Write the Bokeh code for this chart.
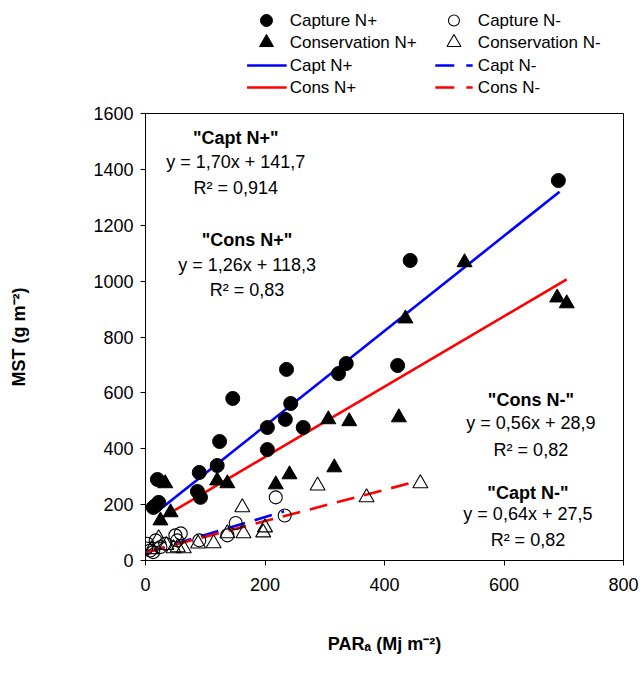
from bokeh.plotting import figure
from bokeh.models import Range1d, FixedTicker
from bokeh.layouts import column
from bokeh.core.properties import value
from bokeh.embed import file_html
from bokeh.resources import INLINE

# ---- data ----
capt_np_x = [13, 17, 22, 20, 87, 92, 90, 120, 124, 146, 204, 204, 234, 236, 243, 264, 323, 336, 422, 443, 691]
capt_np_y = [190, 197, 208, 290, 247, 226, 315, 340, 426, 580, 397, 476, 505, 684, 562, 476, 669, 705, 698, 1074, 1360]

cons_np_x = [25, 33, 42, 120, 137, 218, 241, 306, 316, 341, 424, 435, 534, 689, 705]
cons_np_y = [143, 276, 172, 286, 276, 272, 308, 505, 333, 498, 512, 866, 1067, 941, 920]

capt_nm_x = [3, 8, 17, 25, 33, 13, 1, 50, 59, 53, 90, 151, 137, 218, 233]
capt_nm_y = [60, 36, 72, 48, 60, 30, 43, 90, 97, 72, 72, 134, 90, 226, 161]

cons_nm_x = [10, 22, 35, 47, 54, 64, 88, 114, 137, 162, 164, 197, 200, 288, 370, 460]
cons_nm_y = [40, 79, 55, 43, 47, 43, 60, 61, 97, 190, 97, 100, 118, 268, 226, 276]

# regression fits: name, slope, intercept, x extent
fit_names = ["Capt N+", "Cons N+", "Capt N-", "Cons N-"]
fit_slopes = [1.70, 1.26, 0.64, 0.56]
fit_inter = [141.7, 118.3, 27.5, 28.9]
fit_x0 = [15, 22, 3, 3]
fit_x1 = [693, 705, 232, 455]

# annotations
ann_titles = ['"Capt N+"', '"Cons N+"', '"Cons N-"', '"Capt N-"']
ann_eqs = ["y = 1,70x + 141,7", "y = 1,26x + 118,3", "y = 0,56x + 28,9", "y = 0,64x + 27,5"]
ann_r2 = ["R\u00b2 = 0,914", "R\u00b2 = 0,83", "R\u00b2 = 0,82", "R\u00b2 = 0,82"]
ann_x = [151, 170, 645, 640]
ann_y_title = [1514, 1146, 573, 243]
ann_y_eq = [1428, 1056, 491, 168]
ann_y_r2 = [1335, 967, 394, 75]

x_ticks = [0, 200, 400, 600, 800]
y_ticks = [0, 200, 400, 600, 800, 1000, 1200, 1400, 1600]

# legend entries (two columns of four rows)
leg_left_labels = ["Capture N+", "Conservation N+", "Capt N+", "Cons N+"]
leg_right_labels = ["Capture N-", "Conservation N-", "Capt N-", "Cons N-"]

FONT = "Liberation Sans"
W = 640
LH = 98

# ---------------- legend strip ----------------
lg = figure(width=W, height=LH, x_range=Range1d(0, W), y_range=Range1d(LH, 0),
            output_backend="svg", toolbar_location=None,
            min_border_left=0, min_border_right=0, min_border_top=0, min_border_bottom=0)
lg.axis.visible = False
lg.xgrid.visible = False
lg.ygrid.visible = False
lg.outline_line_color = None
lg.background_fill_color = "white"
lg.border_fill_color = "white"

row_y = [20, 42, 65, 87]
col_mark = [162, 413]
col_line = [(136, 189), (388, 438)]
col_text = [193, 445]

lg.scatter([col_mark[0]], [row_y[0]], marker="circle", size=12, fill_color="black", line_color="black")
lg.scatter([col_mark[0]], [row_y[1]], marker="triangle", size=14, fill_color="black", line_color="black")
lg.scatter([col_mark[1]], [row_y[0]], marker="circle", size=11, fill_color="white", line_color="black", line_width=1.1)
lg.scatter([col_mark[1]], [row_y[1]], marker="triangle", size=14, fill_color="white", line_color="black", line_width=1.1)
lg.line(list(col_line[0]), [row_y[2]] * 2, line_color="blue", line_width=2.6)
lg.line(list(col_line[0]), [row_y[3]] * 2, line_color="red", line_width=2.6)
lg.line(list(col_line[1]), [row_y[2]] * 2, line_color="blue", line_width=2.6, line_dash="19 12")
lg.line(list(col_line[1]), [row_y[3]] * 2, line_color="red", line_width=2.6, line_dash="19 12")
lg.text(x=[col_text[0]] * 4, y=row_y, text=leg_left_labels, text_font=value(FONT),
        text_font_size="17px", text_baseline="middle", text_align="left", text_color="black")
lg.text(x=[col_text[1]] * 4, y=row_y, text=leg_right_labels, text_font=value(FONT),
        text_font_size="17px", text_baseline="middle", text_align="left", text_color="black")

# ---------------- main plot ----------------
p = figure(width=W, height=674 - LH, x_range=Range1d(0, 800), y_range=Range1d(0, 1600),
           output_backend="svg", toolbar_location=None,
           min_border_left=145, min_border_right=17, min_border_top=15, min_border_bottom=114)

p.xgrid.visible = False
p.ygrid.visible = False
p.outline_line_color = "black"
p.outline_line_width = 1
p.background_fill_color = "white"
p.border_fill_color = "white"

for ax in (p.xaxis[0], p.yaxis[0]):
    ax.axis_line_color = "black"
    ax.major_tick_line_color = "black"
    ax.major_tick_out = 5
    ax.major_tick_in = 0
    ax.minor_tick_line_color = None
    ax.major_label_text_font = FONT
    ax.major_label_text_font_size = "18px"
    ax.major_label_text_color = "black"
    ax.axis_label_text_font = FONT
    ax.axis_label_text_font_size = "18px"
    ax.axis_label_text_font_style = "bold"
    ax.axis_label_text_color = "black"

p.xaxis.ticker = FixedTicker(ticks=x_ticks)
p.yaxis.ticker = FixedTicker(ticks=y_ticks)
p.xaxis.major_label_standoff = 12
p.yaxis.major_label_standoff = 7
p.xaxis.axis_label = "PAR\u2090 (Mj m\u207b\u00b2)"
p.yaxis.axis_label = "MST (g m\u207b\u00b2)"
p.xaxis.axis_label_standoff = 40
p.yaxis.axis_label_standoff = 61

# regression lines
line_styles = [("blue", "solid"), ("red", "solid"), ("blue", "18 10"), ("red", "18 10")]
for i in range(4):
    xs = [fit_x0[i], fit_x1[i]]
    ys = [fit_slopes[i] * x + fit_inter[i] for x in xs]
    col, dash = line_styles[i]
    p.line(xs, ys, line_color=col, line_width=2.6, line_dash=dash)

# points
p.scatter(capt_nm_x, capt_nm_y, marker="circle", size=13, fill_color="white",
          fill_alpha=0.0, line_color="black", line_width=1.1)
p.scatter(cons_nm_x, cons_nm_y, marker="triangle", size=15, fill_color="white",
          fill_alpha=0.0, line_color="black", line_width=1.1)
p.scatter(capt_np_x, capt_np_y, marker="circle", size=14, fill_color="black", line_color="black")
p.scatter(cons_np_x, cons_np_y, marker="triangle", size=15, fill_color="black", line_color="black")

# annotations
p.text(x=ann_x, y=ann_y_title, text=ann_titles, text_font=value(FONT), text_font_size="18px",
       text_font_style="bold", text_align="center", text_baseline="middle", text_color="black")
p.text(x=ann_x, y=ann_y_eq, text=ann_eqs, text_font=value(FONT), text_font_size="18px",
       text_align="center", text_baseline="middle", text_color="black")
p.text(x=ann_x, y=ann_y_r2, text=ann_r2, text_font=value(FONT), text_font_size="18px",
       text_align="center", text_baseline="middle", text_color="black")

layout = column(lg, p, spacing=0)
open("out.html", "w").write(file_html(layout, INLINE))
